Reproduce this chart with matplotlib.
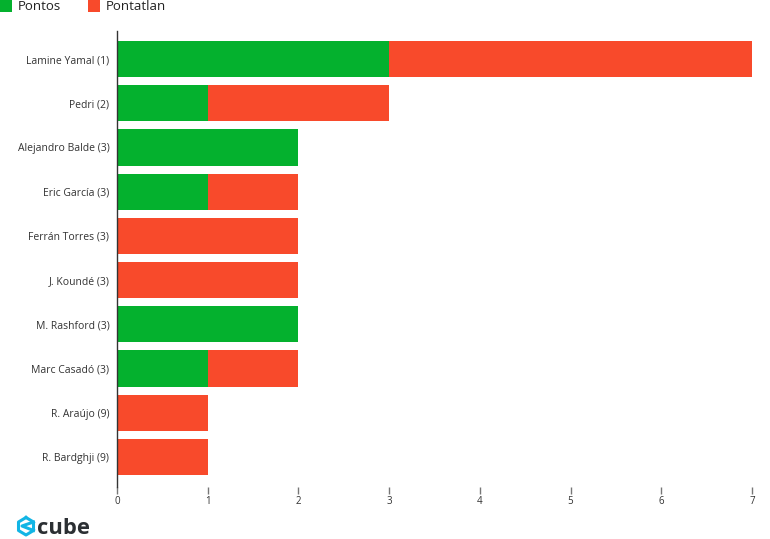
import matplotlib
matplotlib.use("Agg")
import matplotlib.pyplot as plt
from matplotlib.lines import Line2D
from matplotlib.patches import Rectangle

players = ["Lamine Yamal (1)", "Pedri (2)", "Alejandro Balde (3)", "Eric García (3)", "Ferrán Torres (3)",
           "J. Koundé (3)", "M. Rashford (3)", "Marc Casadó (3)", "R. Araújo (9)", "R. Bardghji (9)"]
pontos = [3, 1, 2, 1, 0, 0, 2, 1, 0, 0]
pontatlan = [4, 2, 0, 1, 2, 2, 0, 1, 1, 1]
xticks = [0, 1, 2, 3, 4, 5, 6, 7]

GREEN = "#04b12e"
RED = "#f84a2b"
W, H = 770, 539

plt.rcParams['font.family'] = ['Open Sans', 'DejaVu Sans']
fig = plt.figure(figsize=(W / 100, H / 100), dpi=100)

# axes box in pixels
ax = fig.add_axes([117 / W, 1 - 487 / H, (752 - 117) / W, (487 - 31) / H])
ypos = list(range(len(players)))
ax.barh(ypos, pontos, height=0.82, color=GREEN, linewidth=0)
ax.barh(ypos, pontatlan, left=pontos, height=0.82, color=RED, linewidth=0)

ax.set_xlim(0, 7)
ax.set_ylim(len(players) - 0.5 + 8 / 44.2, -0.5 - 6 / 44.2)
ax.set_xticks(xticks)
ax.set_yticks(ypos)
ax.set_yticklabels(players, fontsize=7.5, color="#333333")
ax.tick_params(axis='y', length=0, pad=5.5)
ax.tick_params(axis='x', length=5, width=1, color="#777777", labelsize=7, labelcolor="#333333", pad=1.5)
for s in ['top', 'right', 'bottom']:
    ax.spines[s].set_visible(False)
ax.spines['left'].set_color("#333333")
ax.spines['left'].set_linewidth(1)

# legend
fig.add_artist(Rectangle((0 / W, 1 - 12 / H), 12 / W, 12 / H, color=GREEN, lw=0, transform=fig.transFigure))
fig.add_artist(Rectangle((88 / W, 1 - 12 / H), 12 / W, 12 / H, color=RED, lw=0, transform=fig.transFigure))
fig.text(18 / W, 1 - 6 / H, "Pontos", fontsize=9.5, color="#222222", va='center')
fig.text(106 / W, 1 - 6 / H, "Pontatlan", fontsize=9.5, color="#222222", va='center')

# cube logo
BLUE = "#12b5e5"
hx = [26, 33.5, 33.5, 26, 18.5, 18.5, 26]
hy = [517.5, 522, 530.5, 535, 530.5, 522, 517.5]
fig.add_artist(Line2D([x / W for x in hx], [1 - y / H for y in hy], color=BLUE, lw=2.2, transform=fig.transFigure))
ix = [33.5, 22, 33.5]
iy = [522, 526, 530.5]
fig.add_artist(Line2D([x / W for x in ix], [1 - y / H for y in iy], color=BLUE, lw=2.2, transform=fig.transFigure))
fig.text(37.5 / W, 1 - 528 / H, "cube", fontsize=15.8, fontweight='bold', color="#2b2f33", va='center')

fig.savefig("out.png", dpi=100)
